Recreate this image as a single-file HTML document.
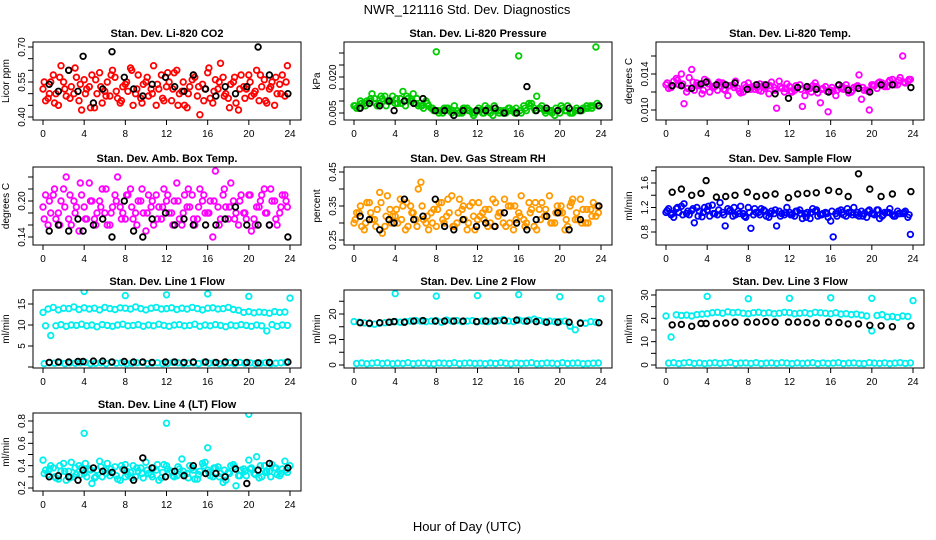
<!DOCTYPE html>
<html><head><meta charset="utf-8">
<style>
html,body{margin:0;padding:0;background:#fff;}
svg{display:block;font-family:"Liberation Sans",sans-serif;}
</style></head>
<body>
<svg id="chart" width="936" height="540" viewBox="0 0 936 540" xmlns="http://www.w3.org/2000/svg">
<rect x="0" y="0" width="936" height="540" fill="#fff"/>
<text x="467" y="14" font-size="13" text-anchor="middle">NWR_121116  Std. Dev. Diagnostics</text>
<text x="467" y="531" font-size="13" text-anchor="middle">Hour of Day (UTC)</text>
</svg>
<script>
// shared hour arrays
const hoursA = [0,0.5,1,1.5,2,2.5,3,3.5,4,4.5,5,5.5,6,6.5,7,7.5,8,8.5,9,9.5,10,10.5,11,11.5,12,12.5,13,13.5,14,14.5,15,15.5,16,16.5,17,17.5,18,18.5,19,19.5,20,20.5,21,21.5,22,22.5,23,23.5];
const hoursB = [0.25,0.75,1.25,1.75,2.25,2.75,3.25,3.75,4.25,4.75,5.25,5.75,6.25,6.75,7.25,7.75,8.25,8.75,9.25,9.75,10.25,10.75,11.25,11.75,12.25,12.75,13.25,13.75,14.25,14.75,15.25,15.75,16.25,16.75,17.25,17.75,18.25,18.75,19.25,19.75,20.25,20.75,21.25,21.75,22.25,22.75,23.25,23.75];
const hoursC = [0.12,0.62,1.12,1.62,2.12,2.62,3.12,3.62,4.12,4.62,5.12,5.62,6.12,6.62,7.12,7.62,8.12,8.62,9.12,9.62,10.12,10.62,11.12,11.62,12.12,12.62,13.12,13.62,14.12,14.62,15.12,15.62,16.12,16.62,17.12,17.62,18.12,18.62,19.12,19.62,20.12,20.62,21.12,21.62,22.12,22.62,23.12,23.62];
const hoursK = [0.6,1.5,2.5,3.4,3.9,4.9,5.8,6.7,7.9,8.8,9.7,10.6,11.9,12.8,13.7,14.6,15.8,16.8,17.7,18.7,19.8,20.9,22.0,23.8];
const hoursOut = [4,8,12,16,20,24];

const co2A = [0.52,0.48,0.58,0.45,0.55,0.60,0.50,0.47,0.56,0.53,0.44,0.59,0.51,0.49,0.57,0.46,0.54,0.61,0.50,0.48,0.55,0.52,0.45,0.58,0.53,0.47,0.60,0.51,0.44,0.56,0.49,0.54,0.59,0.46,0.52,0.57,0.48,0.55,0.43,0.53,0.58,0.50,0.47,0.56,0.52,0.45,0.54,0.49];
const co2B = [0.47,0.55,0.50,0.62,0.49,0.53,0.57,0.43,0.52,0.58,0.50,0.46,0.55,0.60,0.48,0.53,0.51,0.45,0.58,0.54,0.49,0.62,0.52,0.47,0.55,0.59,0.50,0.45,0.53,0.57,0.41,0.52,0.48,0.56,0.63,0.50,0.54,0.46,0.58,0.52,0.49,0.60,0.53,0.46,0.55,0.50,0.58,0.62];
const co2C = [0.55,0.50,0.46,0.57,0.52,0.48,0.61,0.54,0.50,0.44,0.56,0.53,0.49,0.58,0.51,0.47,0.55,0.60,0.52,0.46,0.57,0.50,0.54,0.48,0.59,0.52,0.45,0.55,0.50,0.58,0.53,0.47,0.61,0.51,0.55,0.49,0.44,0.57,0.52,0.48,0.55,0.51,0.58,0.47,0.53,0.57,0.50,0.55];
const co2K = [0.54,0.51,0.60,0.51,0.66,0.46,0.52,0.68,0.57,0.52,0.49,0.54,0.57,0.53,0.51,0.58,0.52,0.49,0.53,0.50,0.53,0.70,0.58,0.50];

const presA = [0.008,0.007,0.009,0.010,0.011,0.009,0.012,0.010,0.009,0.011,0.008,0.010,0.009,0.008,0.010,0.007,0.0305,0.006,0.007,0.005,0.006,0.005,0.007,0.005,0.006,0.005,0.007,0.004,0.006,0.005,0.007,0.006,0.0288,0.008,0.009,0.007,0.007,0.006,0.006,0.004,0.005,0.006,0.005,0.006,0.006,0.007,0.008,0.0325];
const presB = [0.007,0.009,0.010,0.013,0.008,0.011,0.010,0.012,0.009,0.014,0.011,0.013,0.008,0.007,0.008,0.006,0.005,0.007,0.006,0.008,0.005,0.007,0.006,0.005,0.006,0.008,0.005,0.007,0.006,0.005,0.006,0.007,0.005,0.006,0.009,0.012,0.008,0.006,0.005,0.006,0.007,0.008,0.005,0.006,0.007,0.007,0.008,0.008];
const presC = [0.008,0.010,0.008,0.011,0.009,0.012,0.008,0.010,0.011,0.009,0.012,0.010,0.011,0.008,0.009,0.007,0.006,0.005,0.007,0.006,0.005,0.007,0.006,0.004,0.007,0.005,0.006,0.008,0.005,0.006,0.007,0.005,0.006,0.007,0.008,0.006,0.007,0.005,0.006,0.007,0.008,0.006,0.005,0.007,0.006,0.008,0.007,0.009];
const presK = [0.007,0.009,0.008,0.010,0.006,0.010,0.009,0.011,0.006,0.006,0.004,0.006,0.006,0.006,0.007,0.005,0.005,0.016,0.006,0.007,0.006,0.007,0.006,0.008];

const tempA = [0.0128,0.0125,0.0135,0.0140,0.0120,0.0145,0.0130,0.0118,0.0132,0.0126,0.0122,0.0130,0.0116,0.0128,0.0124,0.0120,0.0130,0.0126,0.0122,0.0128,0.0118,0.0125,0.0132,0.0120,0.0126,0.0122,0.0128,0.0116,0.0124,0.0130,0.0108,0.0126,0.0122,0.0116,0.0124,0.0128,0.0120,0.0126,0.0112,0.0122,0.0128,0.0124,0.0130,0.0126,0.0134,0.0128,0.0160,0.0132];
const tempB = [0.0124,0.0132,0.0128,0.0107,0.0136,0.0122,0.0128,0.0134,0.0120,0.0126,0.0130,0.0122,0.0127,0.0132,0.0119,0.0125,0.0123,0.0128,0.0121,0.0126,0.0131,0.0102,0.0124,0.0129,0.0120,0.0125,0.0104,0.0123,0.0127,0.0119,0.0124,0.0098,0.0121,0.0127,0.0123,0.0119,0.0125,0.0139,0.0122,0.0100,0.0127,0.0131,0.0126,0.0133,0.0128,0.0136,0.0130,0.0134];
const tempC = [0.0130,0.0127,0.0133,0.0129,0.0124,0.0131,0.0127,0.0122,0.0129,0.0125,0.0131,0.0123,0.0127,0.0125,0.0121,0.0128,0.0125,0.0123,0.0129,0.0124,0.0127,0.0122,0.0126,0.0124,0.0121,0.0127,0.0123,0.0125,0.0120,0.0126,0.0123,0.0121,0.0125,0.0122,0.0126,0.0124,0.0122,0.0127,0.0125,0.0121,0.0128,0.0130,0.0127,0.0131,0.0129,0.0133,0.0131,0.0134];
const tempK = [0.0127,0.0127,0.0124,0.0129,0.0131,0.0128,0.0128,0.0130,0.0123,0.0128,0.0128,0.0118,0.0113,0.0125,0.0126,0.0123,0.0120,0.0128,0.0122,0.0124,0.0120,0.0128,0.0128,0.0125];

const boxA = [0.19,0.16,0.21,0.18,0.22,0.17,0.20,0.15,0.19,0.23,0.17,0.20,0.18,0.16,0.21,0.19,0.17,0.22,0.18,0.20,0.15,0.19,0.21,0.17,0.20,0.18,0.23,0.16,0.19,0.21,0.17,0.20,0.18,0.14,0.19,0.21,0.17,0.20,0.16,0.18,0.21,0.17,0.19,0.22,0.16,0.20,0.18,0.21];
const boxB = [0.21,0.18,0.17,0.20,0.24,0.16,0.19,0.21,0.17,0.20,0.18,0.22,0.16,0.19,0.24,0.18,0.21,0.17,0.20,0.18,0.21,0.16,0.19,0.22,0.18,0.20,0.17,0.21,0.19,0.16,0.22,0.18,0.20,0.25,0.17,0.19,0.23,0.18,0.21,0.17,0.15,0.19,0.21,0.18,0.20,0.16,0.21,0.19];
const boxC = [0.17,0.20,0.22,0.16,0.19,0.21,0.18,0.23,0.17,0.20,0.16,0.19,0.22,0.18,0.20,0.17,0.21,0.19,0.16,0.22,0.18,0.20,0.17,0.19,0.21,0.16,0.20,0.18,0.22,0.17,0.19,0.21,0.18,0.20,0.16,0.22,0.19,0.17,0.20,0.18,0.21,0.16,0.20,0.18,0.22,0.17,0.19,0.20];
const boxK = [0.15,0.16,0.15,0.17,0.15,0.16,0.17,0.14,0.20,0.15,0.14,0.17,0.18,0.16,0.17,0.16,0.16,0.16,0.17,0.19,0.16,0.16,0.16,0.14];

const rhA = [0.30,0.33,0.28,0.36,0.31,0.39,0.29,0.34,0.32,0.37,0.28,0.35,0.31,0.42,0.30,0.33,0.29,0.36,0.32,0.38,0.30,0.34,0.28,0.36,0.31,0.33,0.29,0.37,0.32,0.30,0.35,0.28,0.33,0.31,0.36,0.29,0.34,0.32,0.38,0.30,0.33,0.28,0.35,0.31,0.37,0.30,0.34,0.32];
const rhB = [0.33,0.29,0.36,0.31,0.34,0.27,0.38,0.32,0.30,0.35,0.29,0.33,0.40,0.31,0.28,0.34,0.36,0.30,0.33,0.29,0.37,0.31,0.35,0.28,0.32,0.34,0.30,0.36,0.33,0.29,0.35,0.31,0.38,0.30,0.34,0.28,0.36,0.32,0.30,0.35,0.33,0.29,0.37,0.31,0.34,0.30,0.36,0.33];
const rhC = [0.31,0.35,0.30,0.33,0.29,0.36,0.32,0.30,0.34,0.31,0.36,0.33,0.29,0.35,0.32,0.30,0.34,0.31,0.37,0.29,0.33,0.35,0.30,0.32,0.36,0.31,0.34,0.29,0.33,0.37,0.30,0.35,0.32,0.29,0.33,0.36,0.31,0.34,0.30,0.33,0.35,0.31,0.36,0.33,0.30,0.34,0.32,0.35];
const rhK = [0.32,0.31,0.28,0.31,0.30,0.37,0.31,0.32,0.37,0.29,0.28,0.31,0.29,0.30,0.29,0.33,0.30,0.28,0.31,0.32,0.33,0.28,0.31,0.35];

const flowA = [1.12,1.08,1.18,1.22,1.10,1.15,1.20,1.05,1.16,1.24,1.08,1.12,1.18,1.06,1.14,1.10,1.20,1.08,1.12,1.16,1.04,1.10,1.14,1.08,1.12,1.06,1.16,1.10,1.02,1.14,1.08,1.12,0.98,1.10,1.16,1.06,1.12,1.08,1.14,1.04,1.10,1.16,1.06,1.12,1.08,1.14,1.10,1.04];
const flowB = [1.18,1.04,1.12,1.26,1.08,0.95,1.14,1.20,1.06,1.10,1.28,0.90,1.16,1.08,1.22,1.04,0.86,1.12,1.18,1.06,1.14,0.90,1.10,1.20,1.08,1.14,1.02,1.12,1.18,1.06,1.10,1.04,0.72,1.14,1.08,1.12,1.20,1.06,1.10,1.16,1.08,1.02,1.12,1.18,1.06,1.10,1.14,0.76];
const flowC = [1.15,1.10,1.20,1.08,1.14,1.18,1.06,1.12,1.22,1.10,1.16,1.08,1.14,1.20,1.10,1.06,1.12,1.18,1.08,1.14,1.10,1.16,1.06,1.12,1.08,1.14,1.10,1.04,1.12,1.16,1.08,1.10,1.14,1.06,1.12,1.18,1.08,1.12,1.06,1.14,1.10,1.16,1.08,1.12,1.06,1.10,1.12,1.08];
const flowK = [1.45,1.50,1.40,1.43,1.64,1.37,1.38,1.40,1.45,1.38,1.40,1.42,1.36,1.42,1.43,1.44,1.48,1.46,1.38,1.75,1.50,1.38,1.42,1.46];

const line1A = [13.0,13.8,14.2,13.6,14.0,13.9,14.3,13.7,14.1,13.8,14.0,13.6,14.2,13.9,13.7,14.1,14.0,13.8,14.3,13.9,13.6,14.0,14.2,13.8,13.9,14.1,13.7,14.0,13.8,14.2,13.9,13.6,14.0,14.1,13.8,13.9,14.2,13.7,13.5,13.0,13.2,12.9,13.1,13.0,12.8,13.2,13.0,13.1];
const line1B = [9.8,7.5,9.8,10.1,9.7,10.0,9.9,10.2,9.8,10.0,9.6,10.1,9.9,9.7,10.0,10.2,9.8,9.9,10.1,9.7,10.0,9.8,10.2,9.9,9.7,10.0,10.1,9.8,9.9,10.2,9.7,10.0,9.8,10.1,9.9,9.6,10.0,9.8,10.1,9.9,9.7,10.0,9.8,8.6,10.1,9.7,10.0,9.9];
const line1Lo = [0.8,1.0,0.9,1.1,0.8,1.0,0.9,1.0,1.1,0.8,0.9,1.0,0.8,1.1,0.9,1.0,0.8,0.9,1.0,1.1,0.8,0.9,1.0,0.8,0.9,1.1,1.0,0.8,0.9,1.0,0.8,1.1,0.9,1.0,0.8,0.9,1.0,0.8,1.1,0.9,1.0,0.8,0.9,1.0,0.8,0.9,1.0,1.1];
const line1K = [1.1,1.2,1.2,1.3,1.3,1.4,1.4,1.2,1.3,1.2,1.2,1.1,1.2,1.2,1.1,1.2,1.2,1.1,1.2,1.1,1.1,1.0,1.1,1.2];
const line1Out = [18.0,17.0,17.2,17.4,16.8,16.4];

const line2Hi = [17.0,16.8,16.5,16.2,16.0,16.4,16.6,16.8,17.0,16.8,17.0,17.2,17.4,17.2,17.0,17.2,17.4,16.8,17.6,17.2,17.4,17.0,17.2,17.4,17.0,17.2,17.0,17.2,17.4,17.8,17.2,17.0,17.6,17.2,17.6,18.0,17.4,17.0,17.2,17.0,17.0,17.2,15.2,13.8,16.6,16.4,17.0,16.8];
const line2Lo = [0.6,0.8,0.5,0.7,0.9,0.6,0.8,0.5,0.7,0.6,0.9,0.5,0.7,0.8,0.6,0.5,0.8,0.7,0.6,0.9,0.5,0.7,0.8,0.6,0.7,0.5,0.8,0.6,0.9,0.7,0.5,0.8,0.6,0.7,0.9,0.5,0.6,0.8,0.7,0.5,0.9,0.6,0.7,0.8,0.5,0.6,0.7,0.8];
const line2K = [16.6,16.4,16.6,16.8,17.0,16.8,17.2,17.4,17.2,17.2,17.2,17.2,17.0,17.2,17.2,17.4,17.6,17.2,17.0,16.8,16.8,16.8,16.4,16.6];
const line2Out = [28.0,27.0,27.2,27.6,26.8,26.0];

const line3Hi = [21.0,12.0,21.5,21.2,21.4,21.0,21.6,21.8,22.0,22.4,22.6,22.2,22.8,22.4,22.6,22.2,22.0,22.4,22.6,22.2,22.4,22.0,22.2,22.6,22.4,22.0,22.2,22.4,22.0,22.6,22.4,22.2,22.0,22.4,21.8,22.0,21.6,21.8,21.4,21.0,14.6,21.2,21.6,20.6,20.8,20.4,21.0,20.8];
const line3Lo = [0.8,1.0,0.6,0.9,1.1,0.7,0.9,0.6,0.8,1.0,0.7,0.9,1.1,0.6,0.8,0.9,0.7,1.0,0.6,0.8,0.9,0.7,1.0,0.8,0.6,0.9,0.7,0.8,1.0,0.6,0.9,0.7,0.8,1.0,0.6,0.8,0.9,0.7,0.6,1.0,0.8,0.7,0.9,0.6,0.8,1.0,0.7,0.9];
const line3K = [17.2,17.4,16.6,17.8,17.8,17.8,18.0,18.4,18.4,18.4,18.6,18.4,18.4,18.4,18.2,18.0,18.4,18.2,17.6,17.6,17.0,16.8,16.4,16.8];
const line3Out = [29.4,28.4,28.6,28.8,28.6,27.6];

const lt4A = [0.45,0.32,0.38,0.28,0.42,0.35,0.30,0.40,0.33,0.37,0.29,0.44,0.36,0.31,0.39,0.27,0.41,0.34,0.30,0.38,0.43,0.32,0.36,0.29,0.40,0.35,0.31,0.46,0.33,0.38,0.28,0.42,0.36,0.30,0.39,0.25,0.34,0.41,0.31,0.37,0.45,0.33,0.29,0.40,0.35,0.38,0.31,0.44];
const lt4B = [0.36,0.40,0.29,0.35,0.27,0.43,0.32,0.38,0.30,0.24,0.36,0.30,0.42,0.34,0.28,0.37,0.32,0.40,0.35,0.29,0.33,0.38,0.27,0.41,0.34,0.30,0.37,0.32,0.40,0.28,0.35,0.43,0.31,0.38,0.33,0.27,0.40,0.22,0.36,0.31,0.38,0.48,0.30,0.35,0.41,0.32,0.37,0.34];
const lt4C = [0.33,0.37,0.30,0.40,0.35,0.29,0.38,0.32,0.42,0.36,0.30,0.39,0.33,0.37,0.31,0.40,0.35,0.29,0.38,0.33,0.36,0.30,0.41,0.34,0.37,0.31,0.39,0.35,0.29,0.36,0.32,0.40,0.34,0.38,0.30,0.36,0.33,0.39,0.31,0.35,0.37,0.32,0.40,0.34,0.30,0.38,0.33,0.36];
const lt4K = [0.30,0.31,0.30,0.27,0.36,0.38,0.35,0.34,0.36,0.27,0.47,0.38,0.30,0.35,0.31,0.40,0.33,0.33,0.30,0.37,0.24,0.36,0.42,0.38];
const lt4Out = [0.69,0.30,0.78,0.56,0.86,0.40];

const svg = document.getElementById('chart');
const NS = 'http://www.w3.org/2000/svg';
function mk(tag, attrs, parent){
  const e = document.createElementNS(NS, tag);
  for (const k in attrs) e.setAttribute(k, attrs[k]);
  (parent||svg).appendChild(e);
  return e;
}
const colX = [33, 344, 656];
const rowY = [42, 167, 290, 413];
const W = 268, Hh = 78;

const panels = [
 {name:'co2', title:'Stan. Dev. Li-820 CO2', ylab:'Licor ppm', c:0, r:0, y1:[0.40,75], y2:[0.70,5], ticks:[0.40,0.45,0.50,0.55,0.60,0.65,0.70], labels:['0.40','','','0.55','','','0.70'], color:'#ff0000', series:[[hoursA,co2A],[hoursB,co2B],[hoursC,co2C]], black:co2K},
 {name:'pressure', title:'Stan. Dev. Li-820 Pressure', ylab:'kPa', c:1, r:0, y1:[0.005,71], y2:[0.030,11], ticks:[0.005,0.010,0.015,0.020,0.025,0.030], labels:['0.005','','','0.020','',''], color:'#00cc00', series:[[hoursA,presA],[hoursB,presB],[hoursC,presC]], black:presK},
 {name:'li820-temp', title:'Stan. Dev. Li-820 Temp.', ylab:'degrees C', c:2, r:0, y1:[0.010,68], y2:[0.016,14], ticks:[0.010,0.012,0.014,0.016], labels:['0.010','','0.014',''], color:'#ff00ff', series:[[hoursA,tempA],[hoursB,tempB],[hoursC,tempC]], black:tempK},
 {name:'box-temp', title:'Stan. Dev. Amb. Box Temp.', ylab:'degrees C', c:0, r:1, y1:[0.14,70], y2:[0.20,34], ticks:[0.14,0.16,0.18,0.20,0.22,0.24], labels:['0.14','','','0.20','',''], color:'#ff00ff', series:[[hoursA,boxA],[hoursB,boxB],[hoursC,boxC]], black:boxK},
 {name:'gas-rh', title:'Stan. Dev. Gas Stream RH', ylab:'percent', c:1, r:1, y1:[0.25,73], y2:[0.45,5], ticks:[0.25,0.30,0.35,0.40,0.45], labels:['0.25','','0.35','','0.45'], color:'#ff9900', series:[[hoursA,rhA],[hoursB,rhB],[hoursC,rhC]], black:rhK},
 {name:'sample-flow', title:'Stan. Dev. Sample Flow', ylab:'ml/min', c:2, r:1, y1:[0.8,65], y2:[1.6,16], ticks:[0.8,1.0,1.2,1.4,1.6,1.8], labels:['0.8','','1.2','','1.6',''], color:'#0000ff', series:[[hoursA,flowA],[hoursB,flowB],[hoursC,flowC]], black:flowK},
 {name:'line1-flow', title:'Stan. Dev. Line 1 Flow', ylab:'ml/min', c:0, r:2, y1:[0,77], y2:[15,14], ticks:[0,5,10,15], labels:['','5','10','15'], color:'#00eeee', series:[[hoursA,line1A],[hoursB,line1B],[hoursC,line1Lo],[hoursOut,line1Out]], black:line1K},
 {name:'line2-flow', title:'Stan. Dev. Line 2 Flow', ylab:'ml/min', c:1, r:2, y1:[0,75], y2:[20,24], ticks:[0,5,10,15,20,25], labels:['0','','10','','20',''], color:'#00eeee', series:[[hoursA,line2Hi],[hoursB,line2Lo],[hoursOut,line2Out]], black:line2K},
 {name:'line3-flow', title:'Stan. Dev. Line 3 Flow', ylab:'ml/min', c:2, r:2, y1:[0,75], y2:[30,5], ticks:[0,5,10,15,20,25,30], labels:['0','','10','','20','','30'], color:'#00eeee', series:[[hoursA,line3Hi],[hoursB,line3Lo],[hoursOut,line3Out]], black:line3K},
 {name:'line4-flow', title:'Stan. Dev. Line 4 (LT) Flow', ylab:'ml/min', c:0, r:3, y1:[0.2,75], y2:[0.8,8], ticks:[0.2,0.3,0.4,0.5,0.6,0.7,0.8], labels:['0.2','','0.4','','0.6','','0.8'], color:'#00eeee', series:[[hoursA,lt4A],[hoursB,lt4B],[hoursC,lt4C],[hoursOut,lt4Out]], black:lt4K}
];
const xTicks = [0,4,8,12,16,20,24];

panels.forEach(p => {
  const x0 = colX[p.c], y0 = rowY[p.r];
  const g = mk('g', {});
  
  
  const xs = h => x0 + 10 + (h / 24) * 247;
  const ys = v => y0 + p.y1[1] + (v - p.y1[0]) * (p.y2[1] - p.y1[1]) / (p.y2[0] - p.y1[0]);
  const clip = 'clip-' + p.name;
  const cp = mk('clipPath', {id: clip}, g);
  mk('rect', {x:x0, y:y0, width:W, height:Hh}, cp);
  const pts = mk('g', {'clip-path':'url(#' + clip + ')'}, g);
  
  
  p.series.forEach(s => {
    s[1].forEach((v, i) => {
      const c = mk('circle', {cx:xs(s[0][i]).toFixed(1), cy:ys(v).toFixed(1), r:2.8, fill:'none', stroke:p.color, 'stroke-width':1.8}, pts);
      
      
    });
  });
  p.black.forEach((v, i) => {
    const c = mk('circle', {cx:xs(hoursK[i]).toFixed(1), cy:ys(v).toFixed(1), r:2.8, fill:'none', stroke:'#000', 'stroke-width':1.8}, pts);
    
    
  });
  const frame = mk('rect', {x:x0, y:y0, width:W, height:Hh, fill:'none', stroke:'#000', 'stroke-width':1}, g);
  
  
  const t = mk('text', {x:x0 + W/2, y:y0 - 5, 'font-size':11, 'font-weight':'bold', 'text-anchor':'middle'}, g);
  t.textContent = p.title;
  
  
  xTicks.forEach(h => {
    mk('line', {x1:xs(h), x2:xs(h), y1:y0+Hh, y2:y0+Hh+5, stroke:'#000'}, g);
    const l = mk('text', {x:xs(h), y:y0+Hh+17, 'font-size':10, 'text-anchor':'middle'}, g);
    l.textContent = h;
    
    
  });
  p.ticks.forEach((v, i) => {
    const yy = ys(v);
    mk('line', {x1:x0-5, x2:x0, y1:yy, y2:yy, stroke:'#000'}, g);
    if (p.labels[i]) {
      const l = mk('text', {x:0, y:0, 'font-size':10, 'text-anchor':'middle', transform:'translate(' + (x0-8) + ',' + yy + ') rotate(-90)'}, g);
      l.textContent = p.labels[i];
      
      
    }
  });
  const yl = mk('text', {x:0, y:0, 'font-size':10, 'text-anchor':'middle', transform:'translate(' + (x0-24) + ',' + (y0+Hh/2) + ') rotate(-90)'}, g);
  yl.textContent = p.ylab;
  
  
});
</script>
</body></html>
